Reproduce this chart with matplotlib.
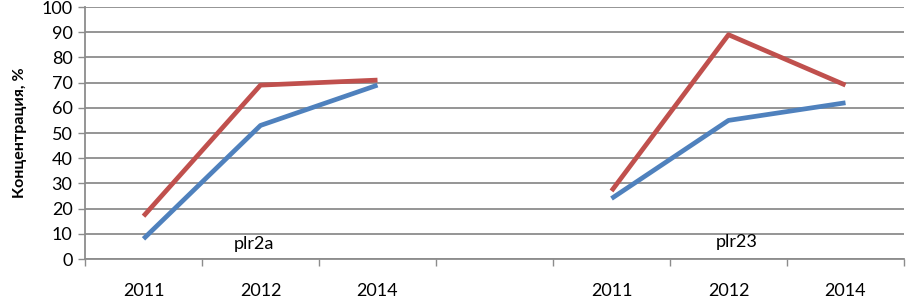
import numpy as np
import matplotlib.pyplot as plt

# категории оси X (пустая категория между группами)
categories = ['2011', '2012', '2014', '', '2011', '2012', '2014']
series_blue = [8, 53, 69, np.nan, 24, 55, 62]
series_red = [17, 69, 71, np.nan, 27, 89, 69]
group_labels = ['plr2a', 'plr23']

plt.rcParams['font.family'] = ['Lato', 'DejaVu Sans']

fig = plt.figure(figsize=(9.06, 2.99), dpi=100)
ax = fig.add_axes([85 / 906, 1 - 259 / 299, 819 / 906, 252 / 299])

x = np.arange(len(categories))
ax.plot(x, series_blue, color='#4F81BD', lw=3.4, solid_capstyle='butt', zorder=3)
ax.plot(x, series_red, color='#C0504D', lw=3.4, solid_capstyle='butt', zorder=4)

ax.set_xlim(-0.5, len(categories) - 0.5)
ax.set_ylim(0, 100)
ax.set_yticks(np.arange(0, 101, 10))
ax.yaxis.grid(True, color='#8c8c8c', lw=1.3)
ax.set_axisbelow(True)

ax.set_xticks(x)
ax.set_xticklabels(categories)
ax.set_xticks(np.arange(-0.5, len(categories), 1), minor=True)
ax.tick_params(axis='x', which='major', length=0, pad=17, labelsize=13)
ax.tick_params(axis='x', which='minor', length=5, color='#8c8c8c', width=1)
ax.tick_params(axis='y', length=5, color='#8c8c8c', width=1, labelsize=13, pad=4)

for s in ['top', 'right']:
    ax.spines[s].set_visible(False)
for s in ['left', 'bottom']:
    ax.spines[s].set_color('#8c8c8c')
    ax.spines[s].set_linewidth(1.3)

ax.text(0.94, 6, group_labels[0], ha='center', va='center', fontsize=13)
ax.text(5.07, 6.7, group_labels[1], ha='center', va='center', fontsize=13)

ax.set_ylabel('Концентрация, %', fontsize=11.5, fontweight='bold', labelpad=10)

fig.savefig('out.png', dpi=100)
